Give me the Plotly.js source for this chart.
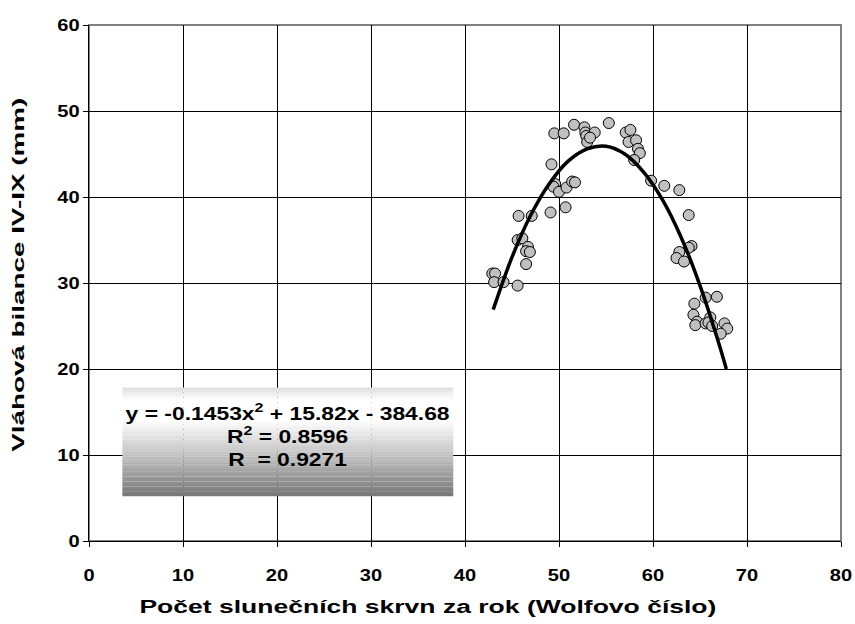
<!DOCTYPE html>
<html>
<head>
<meta charset="utf-8">
<script src="https://cdn.plot.ly/plotly-3.0.1.min.js"></script>
<style>html,body{margin:0;padding:0;background:#fff;}#chart{width:855px;height:624px;}</style>
</head>
<body>
<div id="chart"></div>
<script>
// Observed data: sunspot number (x) vs water balance IV-IX (y)
const sunspots = [
  42.9, 43.2, 43.1, 44.1, 45.6, 45.6, 46.1, 46.7, 46.5, 46.9,
  46.5, 45.7, 47.1, 49.1, 50.7, 49.2, 49.6, 49.4, 50.0, 50.8,
  51.4, 51.7, 49.5, 50.5, 51.6, 52.7, 52.8, 52.9, 53.8, 53.0,
  53.3, 55.3, 57.1, 57.6, 57.4, 58.2, 58.4, 58.6, 58.0, 59.8,
  61.2, 62.8, 63.8, 64.1, 63.8, 62.8, 62.5, 63.3, 64.4, 65.6,
  64.3, 64.7, 64.5, 65.6, 66.8, 66.1, 65.9, 67.6, 67.9, 67.2,
  66.3
];
const waterBalance = [
  31.1, 31.1, 30.1, 30.1, 29.7, 35.0, 35.2, 34.2, 33.7, 33.6,
  32.2, 37.8, 37.8, 38.2, 38.8, 43.8, 41.5, 41.2, 40.6, 41.1,
  41.8, 41.7, 47.4, 47.4, 48.4, 48.1, 47.5, 47.1, 47.5, 46.4,
  46.9, 48.6, 47.5, 47.8, 46.4, 46.6, 45.6, 45.1, 44.3, 41.9,
  41.3, 40.8, 37.9, 34.3, 34.1, 33.6, 32.9, 32.5, 27.6, 28.3,
  26.3, 25.5, 25.1, 25.3, 28.4, 26.0, 25.4, 25.3, 24.7, 24.1,
  25.0
];
// Polynomial trend line
const trendX = [43, 45, 47, 49, 51, 53, 55, 57, 59, 61, 63, 65, 67, 67.8];
const trendY = [26.9, 33.0, 37.9, 41.6, 44.2, 45.6, 45.9, 45.0, 42.9, 39.7, 35.3, 29.7, 23.0, 20.0];
// Axis ticks
const xTicks = [0, 10, 20, 30, 40, 50, 60, 70, 80];
const yTicks = [0, 10, 20, 30, 40, 50, 60];
const eqLines = ["y = -0.1453x<sup>2</sup> + 15.82x - 384.68", "R<sup>2</sup> = 0.8596", "R  = 0.9271"];
const xTitle = 'Počet slunečních skrvn za rok (Wolfovo číslo)';
const yTitle = 'Vláhová bilance IV-IX (mm)';

const FONT = "Liberation Sans, Arial, sans-serif";

// gradient box (equation label background) built from bands
const box = {x0: 3.55, x1: 38.75, y0: 5.2, y1: 17.85};
const shapes = [];
const nb = 44;
function grayAt(t) { // t=0 top, 1 bottom
  let v;
  if (t < 0.12) v = 222 + (255 - 222) * (t / 0.12);
  else if (t < 0.3) v = 255;
  else v = 255 - (255 - 118) * ((t - 0.3) / 0.7);
  v = Math.round(v);
  return `rgb(${v},${v},${v})`;
}
for (let i = 0; i < nb; i++) {
  const t0 = i / nb, t1 = (i + 1) / nb;
  shapes.push({
    type: 'rect', xref: 'x', yref: 'y', layer: 'above',
    x0: box.x0, x1: box.x1,
    y0: box.y1 - (box.y1 - box.y0) * t1 - 0.01,
    y1: box.y1 - (box.y1 - box.y0) * t0,
    fillcolor: grayAt((t0 + t1) / 2), line: {width: 0}
  });
}
// plot frame in gray
shapes.unshift({type: 'rect', xref: 'paper', yref: 'paper', x0: 0, x1: 1, y0: 0, y1: 1,
  line: {color: '#808080', width: 2}, layer: 'below'});

const traces = [
  {
    x: sunspots, y: waterBalance, type: 'scatter', mode: 'markers',
    marker: {size: 11, color: '#c0c0c0', line: {color: '#000', width: 1}},
    cliponaxis: false, hoverinfo: 'skip'
  },
  {
    x: trendX, y: trendY, type: 'scatter', mode: 'lines',
    line: {color: '#000', width: 3.5, shape: 'spline', smoothing: 1},
    hoverinfo: 'skip'
  }
];

const tickFont = {family: FONT, size: 17, color: '#000', weight: 'bold'};
const layout = {
  width: 855, height: 624,
  margin: {l: 89, r: 14, t: 25, b: 83},
  paper_bgcolor: '#fff', plot_bgcolor: '#fff',
  showlegend: false,
  font: {family: FONT, color: '#000', size: 17},
  xaxis: {
    range: [0, 80], tickvals: xTicks, ticktext: xTicks.map(String),
    showgrid: true, gridcolor: '#000', gridwidth: 1,
    zeroline: false, showline: true, linecolor: '#000', linewidth: 1,
    ticks: 'outside', ticklen: 5, tickcolor: '#000', tickfont: tickFont,
    ticklabelstandoff: 14
  },
  yaxis: {
    range: [0, 60], tickvals: yTicks, ticktext: yTicks.map(String),
    showgrid: true, gridcolor: '#000', gridwidth: 1,
    zeroline: false, showline: true, linecolor: '#000', linewidth: 1,
    ticks: 'outside', ticklen: 5, tickcolor: '#000', tickfont: tickFont
  },
  shapes: shapes,
  annotations: [
    {
      x: (box.x0 + box.x1) / 2, y: (box.y0 + box.y1) / 2 + 0.7, xref: 'x', yref: 'y',
      text: '<b>' + eqLines.join('<br>') + '</b>', showarrow: false, align: 'center',
      font: {family: FONT, size: 18, color: '#000'}, name: 'eq'
    },
    {
      x: 0.4505, y: -0.128, xref: 'paper', yref: 'paper', xanchor: 'center', yanchor: 'middle',
      text: '<b>' + xTitle + '</b>', showarrow: false,
      font: {family: FONT, size: 18, color: '#000'}, name: 'xt'
    },
    {
      x: -0.0944, y: 0.5155, xref: 'paper', yref: 'paper', xanchor: 'center', yanchor: 'middle',
      text: '<b>' + yTitle + '</b>', showarrow: false, textangle: -90,
      font: {family: FONT, size: 17, color: '#000'}, name: 'yt'
    }
  ]
};

Plotly.newPlot('chart', traces, layout, {staticPlot: true, displayModeBar: false}).then(function (gd) {
  // the reference typeface is drawn wider than Arial; widen text to match
  function stretchLen(el, targetLen) {
    el.setAttribute('textLength', targetLen);
    el.setAttribute('lengthAdjust', 'spacingAndGlyphs');
  }
  gd.querySelectorAll('.xtick text, .ytick text').forEach(function (t) {
    stretchLen(t, t.getComputedTextLength() * 1.18);
  });
  const annTexts = gd.querySelectorAll('.annotation-text');
  annTexts.forEach(function (t, i) {
    if (i === 1) stretchLen(t, 577);
    else if (i === 2) stretchLen(t, 354);
    else if (i === 0) {
      const bb = t.getBBox();
      const cx = bb.x + bb.width / 2;
      const prev = t.getAttribute('transform') || '';
      t.setAttribute('transform', prev + ` translate(${cx},0) scale(1.27,1) translate(${-cx},0)`);
    }
  });
});
</script>
</body>
</html>
